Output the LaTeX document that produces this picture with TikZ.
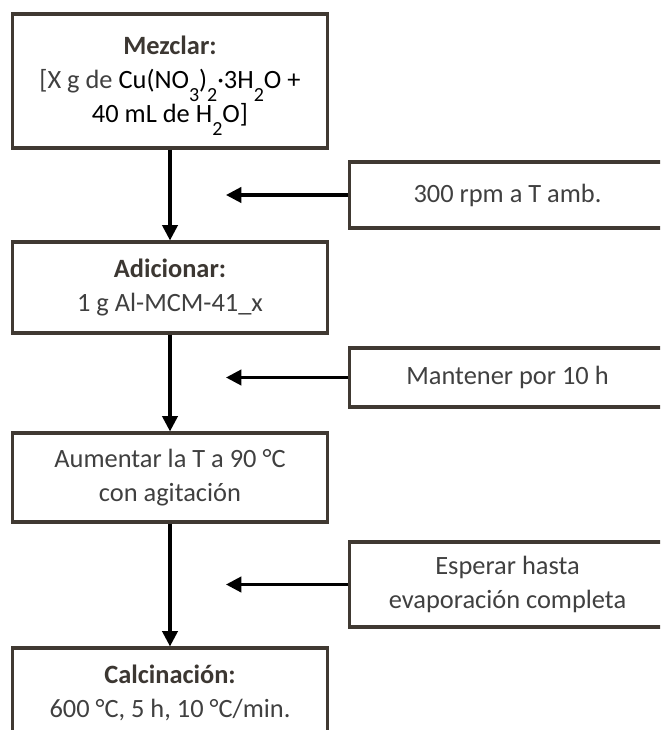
\documentclass[tikz,border=0pt]{standalone}
\usepackage{fontspec}
\setmainfont{Carlito}
\usetikzlibrary{arrows.meta}
\definecolor{boxline}{RGB}{64,57,50}
\definecolor{headtext}{RGB}{60,55,50}
\definecolor{bodytext}{RGB}{64,64,64}
\newcommand\chemsub[1]{\raisebox{-10pt}[0pt][0pt]{\fontsize{15}{15}\selectfont #1}}
\tikzset{
  stepbox/.style={draw=boxline, line width=2.4pt, fill=white, align=center,
    minimum width=236.5pt, inner sep=0pt, text=bodytext,
    font=\fontsize{19.8}{25.5}\selectfont},
  flow/.style={draw=black, line width=2.3pt,
    -{Triangle[length=11.5pt,width=11.5pt]}}
}
\begin{document}
\begin{tikzpicture}[x=0.75pt,y=-0.75pt]
\useasboundingbox (0,0) rectangle (660,730);
\clip (0,0) rectangle (660,730);
% main column
\node[stepbox, minimum height=100.5pt] (b1) at (170,81)
  {{\bfseries\color{headtext}Mezclar:}\\
   {[}X g de {\color{black}Cu(NO\chemsub{3})\chemsub{2}·3H\chemsub{2}O +}\\
   {\color{black}40 mL de H\chemsub{2}O]}};
\node[stepbox, minimum height=68.25pt] (b2) at (170,287.5)
  {{\bfseries\color{headtext}Adicionar:}\\ 1 g Al-MCM-41\_x};
\node[stepbox, minimum height=66.75pt] (b3) at (170,477.5)
  {Aumentar la T a 90 °C\\ con agitación};
\node[stepbox, minimum height=66.75pt] (b4) at (170,692.5)
  {{\bfseries\color{headtext}Calcinación:}\\ 600 °C, 5 h, 10 °C/min.};
% side column
\node[stepbox, minimum height=49.5pt] (s1) at (507.5,195) {300 rpm a T amb.};
\node[stepbox, minimum height=44.25pt] (s2) at (507.5,377.5) {Mantener por 10 h};
\node[stepbox, minimum height=63.75pt] (s3) at (507.5,584.5) {Esperar hasta\\ evaporación completa};
\coordinate (t1) at (226,195);
\coordinate (t2) at (226,377.5);
\coordinate (t3) at (226,584.5);
% connectors
\draw[flow] (b1.south) -- (b2.north);
\draw[flow] (b2.south) -- (b3.north);
\draw[flow] (b3.south) -- (b4.north);
\draw[flow] (s1.west) -- (t1);
\draw[flow] (s2.west) -- (t2);
\draw[flow] (s3.west) -- (t3);
\end{tikzpicture}
\end{document}
